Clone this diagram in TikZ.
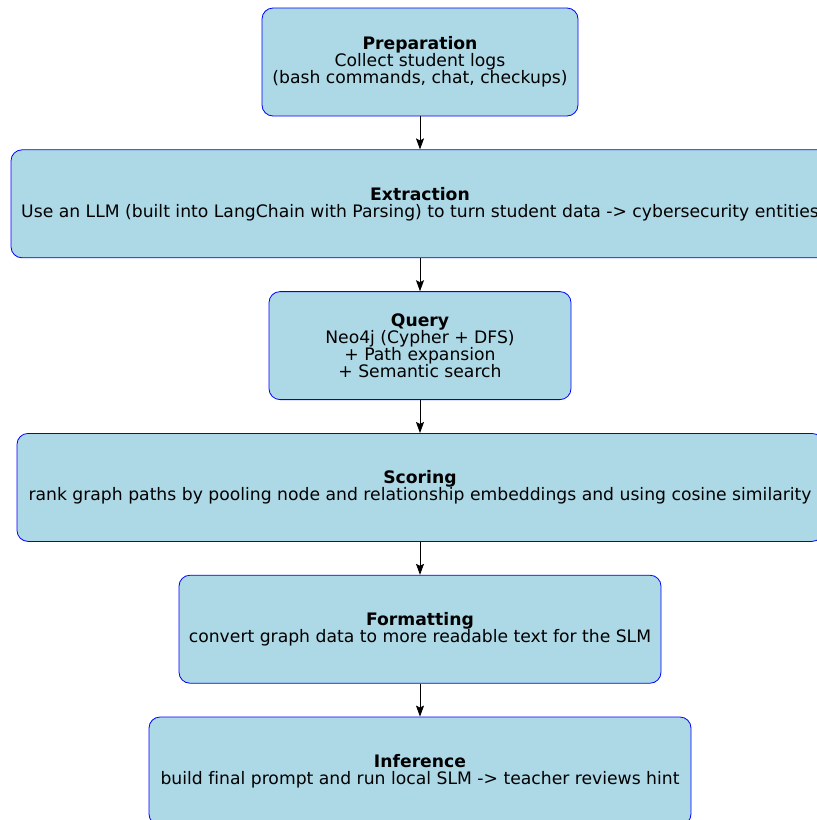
\documentclass[tikz,border=0pt]{standalone}
\usepackage{fontspec}
\setmainfont{DejaVu Sans}[Ligatures=NoCommon]
\usetikzlibrary{positioning,arrows.meta}
\definecolor{boxfill}{HTML}{ADD8E6}
\newcommand{\stagetitle}[1]{\textbf{#1}\\}

\begin{document}
\begin{tikzpicture}[x=1pt,y=1pt,>={Stealth[length=11pt,width=8pt,inset=2pt]},
    stage/.style={draw=blue,fill=boxfill,line width=0.8pt,rounded corners=11pt,
        minimum height=108pt,inner sep=0pt,align=center,
        font=\fontsize{17.2}{17}\selectfont},
    flow/.style={->,line width=0.8pt,black},
    node distance=33pt]

% page frame, boxes run past the right and bottom edge
\useasboundingbox (0,0) rectangle (817,-820);
\clip (0,0) rectangle (817,-820);

% pipeline stages
\node [stage,minimum width=316pt] (prep) at (420,-62)
    {\stagetitle{Preparation}Collect student logs\\(bash commands, chat, checkups)};
\node [stage,minimum width=818pt,below=of prep] (extract)
    {\stagetitle{Extraction}Use an LLM (built into LangChain with Parsing) to turn student data -> cybersecurity entities};
\node [stage,minimum width=302pt,below=of extract] (query)
    {\stagetitle{Query}Neo4j (Cypher + DFS)\\+ Path expansion\\+ Semantic search};
\node [stage,minimum width=806pt,below=of query] (score)
    {\stagetitle{Scoring}rank graph paths by pooling node and relationship embeddings and using cosine similarity};
\node [stage,minimum width=482pt,below=of score] (format)
    {\stagetitle{Formatting}convert graph data to more readable text for the SLM};
\node [stage,minimum width=542pt,below=of format] (infer)
    {\stagetitle{Inference}build final prompt and run local SLM -> teacher reviews hint};

% arrows between stages
\foreach \from/\to in {prep/extract, extract/query, query/score, score/format, format/infer}
    \draw [flow] (\from) -- (\to);

\end{tikzpicture}
\end{document}
